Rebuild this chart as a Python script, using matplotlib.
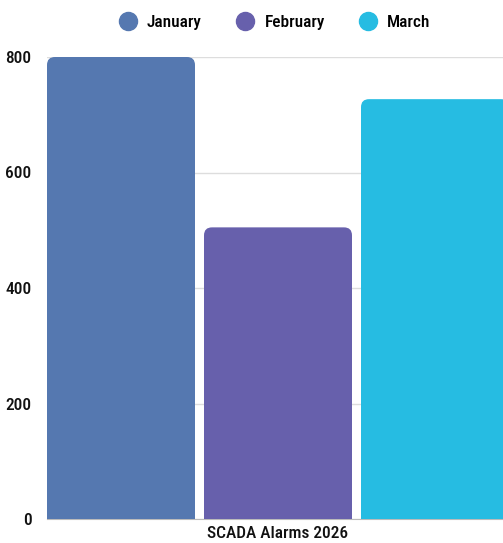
import matplotlib
matplotlib.use("Agg")
import matplotlib.pyplot as plt
from matplotlib.patches import FancyBboxPatch
from matplotlib.lines import Line2D

plt.rcParams['font.family'] = ['Roboto Condensed', 'DejaVu Sans']
plt.rcParams['font.stretch'] = 'condensed'
plt.rcParams['font.weight'] = 'medium'

series = ["January", "February", "March"]
values = [800, 505, 727]
colors = ["#5578B0", "#6760AC", "#26BCE2"]
category = "SCADA Alarms 2026"
yticks = [0, 200, 400, 600, 800]

W, H = 503, 543
fig = plt.figure(figsize=(W / 100, H / 100), dpi=100)
ax = fig.add_axes([47 / W, (H - 519) / H, (509 - 47) / W, (519 - 57) / H])

width = 148 / 157
xs = list(range(len(series)))
ax.set_xlim(-width / 2, len(series) - 1 + width / 2)
ax.set_ylim(0, 800)

fig.canvas.draw()
bbox = ax.get_window_extent()
ppx = bbox.width / (ax.get_xlim()[1] - ax.get_xlim()[0])
ppy = bbox.height / (ax.get_ylim()[1] - ax.get_ylim()[0])
r_px = 8
r_x = r_px / ppx
r_y = r_px / ppy

for x, v, c in zip(xs, values, colors):
    p = FancyBboxPatch((x - width / 2, -r_y * 2), width, v + r_y * 2,
                       boxstyle=f"round,pad=0,rounding_size={r_x}",
                       mutation_aspect=r_y / r_x,
                       facecolor=c, edgecolor="none", zorder=3)
    ax.add_patch(p)

fs = 12.5
ax.set_yticks(yticks)
ax.set_yticklabels([str(t) for t in yticks], fontsize=fs, color="#111111")
ax.set_xticks([1])
ax.set_xticklabels([category], fontsize=fs, color="#111111")
ax.tick_params(axis="y", length=0, pad=11)
ax.tick_params(axis="x", length=0, pad=5)
ax.grid(axis="y", color="#dddddd", linewidth=1, zorder=0)
for s in ["top", "right", "left"]:
    ax.spines[s].set_visible(False)
ax.spines["bottom"].set_color("#bbbbbb")
ax.spines["bottom"].set_zorder(1)

handles = [Line2D([], [], marker="o", linestyle="none", markersize=13,
                  markerfacecolor=c, markeredgecolor=c) for c in colors]
fig.legend(handles, series, loc="center", bbox_to_anchor=(275 / W, 1 - 22 / H),
           ncol=3, frameon=False, fontsize=fs, handletextpad=0.6,
           columnspacing=2.0, handlelength=1.0, borderpad=0)

fig.savefig("out.png", dpi=100)
